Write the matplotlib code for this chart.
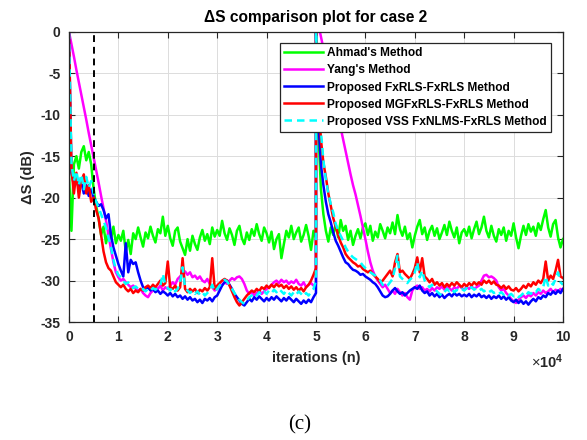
import numpy as np
import matplotlib
matplotlib.use('Agg')
import matplotlib.pyplot as plt

plt.rcParams['font.family'] = ['Liberation Sans', 'DejaVu Sans']
plt.rcParams['mathtext.fontset'] = 'custom'
plt.rcParams['mathtext.rm'] = 'Liberation Sans'
plt.rcParams['mathtext.bf'] = 'Liberation Sans:bold'
plt.rcParams['axes.unicode_minus'] = False

# iterations in units of 1e4; the plant changes at 5e4 so each run has two halves
n_first = np.arange(101) * 0.05
n_second = 5.0 + np.arange(101) * 0.05

ahmad_1 = [-17,
           -24, -16, -15, -16.5, -14.5, -13.8, -15.5, -14.5, -16, -19, -21, -22.5, -24.5, -23.5, -25.5, -24, -25, -23.5, -25.5, -24.5,
           -25.2, -24.0, -26.5, -25.1, -26.8, -24.3, -25.0, -23.6, -24.8, -25.9, -24.2, -24.9, -23.5, -24.6, -25.4, -23.8, -24.3, -22.3, -24.6, -23.4,
           -24.9, -25.8, -24.0, -23.6, -25.3, -26.1, -26.9, -25.0, -26.4, -24.6, -25.6, -26.3, -24.8, -23.9, -25.2, -24.4, -25.6, -23.6, -24.7, -23.9,
           -24.6, -22.8, -24.3, -25.1, -23.7, -24.5, -25.7, -24.0, -23.4, -24.9, -25.6, -24.2, -25.1, -23.8, -24.6, -23.2, -24.4, -25.2, -23.6, -24.3,
           -25.4, -24.1, -26.2, -25.0, -24.4, -27.3, -25.6, -24.0, -24.8, -23.4, -25.0, -24.2, -23.6, -25.3, -24.5, -23.3, -24.6, -26.3, -24.0, -24.8]
ahmad_2 = [0,
           -12, -19, -22, -24, -25.3, -23.6, -24.5, -23.2, -24.8, -22.7, -24.0, -23.4, -25.1, -24.0, -25.7, -24.6, -23.8, -24.9, -23.6, -23.1,
           -24.5, -23.4, -25.2, -24.1, -24.8, -23.2, -24.0, -24.9, -23.6, -24.3, -23.0, -24.4, -22.1, -23.8, -24.6, -23.5, -25.0, -24.3, -26.0, -24.6,
           -23.5, -22.7, -24.4, -23.6, -25.1, -24.0, -23.4, -24.6, -23.7, -25.0, -24.2, -23.3, -24.5, -22.9, -24.0, -24.8, -23.6, -25.5, -24.2, -23.8,
           -24.6, -23.5, -24.9, -23.8, -22.9, -24.4, -23.6, -22.3, -24.0, -24.8, -23.4, -24.6, -25.3, -23.8, -24.5, -23.6, -25.2, -24.0, -24.6, -23.1,
           -24.8, -26.1, -24.6, -23.4, -24.5, -23.2, -24.1, -23.5, -24.6, -23.1, -23.9, -22.6, -21.5, -23.6, -24.7, -23.2, -22.7, -24.8, -26.0, -25.0]

yang_1 = [0,
          -1.5, -3.0, -4.6, -6.1, -7.6, -9.1, -10.6, -12.2, -13.7, -15.2, -16.7, -18.2, -19.8, -21.3, -22.8, -24.5, -26.2, -27.8, -29.0, -29.6,
          -30.0, -29.8, -30.2, -30.5, -30.8, -30.6, -31.0, -31.2, -31.0, -31.5, -31.8, -32.0, -31.5, -31.2, -30.8, -31.0, -30.6, -31.2, -30.8, -31.0,
          -30.6, -30.2, -30.5, -29.8, -29.5, -29.2, -28.9, -29.3, -29.0, -29.6, -29.4, -29.8, -29.5, -30.0, -30.2, -29.8, -30.4, -30.8, -31.2, -31.0,
          -30.8, -30.5, -30.2, -30.4, -30.0, -29.7, -29.9, -29.6, -29.5, -29.8, -30.4, -31.2, -31.6, -31.4, -31.8, -31.5, -31.2, -31.6, -31.3, -31.0,
          -30.8, -30.5, -30.2, -30.0, -30.3, -29.9, -30.2, -30.0, -30.4, -30.1, -30.3, -29.9, -30.4, -30.6, -30.2, -30.8, -30.5, -30.3, -30.6, -30.4]
yang_2 = [2.2,
          0.8, -0.6, -2.0, -3.4, -4.8, -6.1, -7.5, -8.9, -10.3, -11.6, -13.0, -14.4, -15.8, -17.2, -18.5, -19.6, -20.9, -22.2, -23.6, -25.0,
          -26.5, -27.8, -28.8, -29.5, -30.0, -30.4, -30.8, -30.5, -31.0, -31.5, -31.2, -31.6, -31.0, -31.4, -31.8, -31.5, -32.0, -32.3, -31.2, -30.8,
          -30.6, -31.0, -30.8, -31.2, -31.0, -31.3, -30.9, -31.2, -30.8, -31.0, -30.7, -31.1, -30.6, -30.9, -31.2, -30.8, -31.0, -30.6, -30.9, -31.1,
          -30.8, -31.0, -30.7, -31.0, -30.8, -30.6, -30.0, -29.4, -29.3, -29.6, -29.5, -29.7, -30.0, -30.8, -31.2, -31.0, -31.5, -31.8, -32.2, -32.5,
          -32.7, -32.3, -32.0, -31.8, -32.1, -31.7, -31.9, -31.5, -31.8, -31.4, -31.6, -31.2, -31.5, -31.3, -31.0, -31.4, -31.1, -31.3, -31.0, -31.2]

fxrls_1 = [0,
           -17, -18.5, -17.5, -19, -18, -19.5, -18.5, -19.8, -19.0, -20.0, -20.5, -21.0, -20.8, -21.5, -22.5, -22.0, -24.5, -26.0, -27.0, -28.0,
           -28.8, -29.5, -25.5, -29.0, -27.5, -28.0, -27.8, -29.0, -30.0, -30.8, -31.0, -30.8, -31.2, -31.0, -31.4, -31.2, -31.6, -31.3, -31.5, -31.8,
           -31.5, -31.9, -31.6, -32.0, -31.8, -32.2, -31.9, -32.3, -32.0, -32.4, -32.2, -32.6, -32.3, -32.7, -32.2, -32.4, -32.1, -32.5, -32.0, -31.8,
           -31.2, -30.6, -30.2, -30.0, -30.5, -31.0, -31.6, -32.0, -32.4, -32.8, -33.0, -32.6, -32.2, -32.5, -32.0, -32.3, -31.9, -32.2, -32.5, -32.1,
           -32.4, -32.0, -32.3, -31.9, -32.2, -32.5, -32.1, -32.4, -32.0, -32.3, -32.6, -32.2, -32.5, -32.8, -32.4, -32.7, -32.3, -32.6, -32.0, -31.5]
fxrls_2 = [0,
           -11, -16, -18.5, -20.5, -22.0, -23.0, -24.2, -25.2, -25.8, -26.5, -27.2, -27.8, -28.0, -28.4, -28.7, -28.8, -29.0, -29.3, -29.2, -29.5,
           -29.7, -29.9, -30.2, -30.4, -30.8, -31.3, -31.8, -32.0, -31.9, -31.6, -31.2, -30.9, -31.3, -31.6, -31.4, -31.8, -31.5, -31.2, -31.0, -30.8,
           -31.0, -30.6, -31.2, -31.5, -31.3, -31.8, -31.5, -31.9, -31.6, -32.0, -31.7, -32.1, -31.8, -31.6, -31.9, -31.5, -31.8, -31.6, -31.9, -31.7,
           -31.9, -31.6, -32.0, -31.7, -31.9, -31.6, -32.0, -31.8, -32.1, -31.8, -32.2, -31.9, -32.1, -31.8, -32.2, -31.9, -32.3, -32.0, -32.4, -32.6,
           -32.3, -32.7, -32.4, -32.8, -32.5, -32.9, -32.5, -32.2, -32.5, -32.0, -32.2, -31.8, -32.0, -31.5, -31.7, -31.3, -31.6, -31.2, -31.5, -31.0]

mgfxrls_1 = [0,
             -16.5, -19.5, -17.0, -20.0, -18.0, -17.2, -19.5, -18.5, -20.5, -20.0, -21.5, -22.5, -24.5, -26.5, -27.8, -28.5, -28.8, -29.5, -30.2, -30.5,
             -30.8, -30.5, -31.0, -31.3, -31.0, -31.5, -31.2, -31.4, -31.0, -31.2, -30.8, -30.6, -30.9, -30.5, -30.8, -30.4, -30.0, -30.6, -30.3, -27.7,
             -30.8, -31.0, -30.6, -31.2, -30.8, -27.3, -31.0, -31.4, -31.0, -31.3, -31.0, -31.5, -31.1, -31.3, -30.9, -31.2, -30.8, -27.3, -31.0, -30.6,
             -30.3, -30.0, -29.8, -30.0, -30.6, -31.3, -32.0, -32.6, -33.0, -32.6, -32.2, -31.8, -31.5, -31.2, -31.4, -31.0, -31.3, -30.8, -31.0, -30.6,
             -30.9, -30.5, -30.8, -30.4, -30.7, -30.5, -30.9, -30.6, -31.0, -30.7, -31.1, -30.8, -31.2, -30.9, -31.3, -30.8, -30.5, -30.0, -29.3, -28.5]
mgfxrls_2 = [0,
             -8, -13, -15.8, -17.5, -19.5, -21.0, -22.5, -23.5, -24.5, -25.4, -26.0, -26.8, -27.2, -27.5, -27.8, -28.0, -28.3, -28.2, -28.6, -28.8,
             -29.0, -28.8, -29.2, -29.5, -29.8, -30.2, -30.0, -29.6, -29.2, -28.8, -29.5, -27.8, -26.8, -29.0, -28.8, -29.2, -29.5, -29.8, -29.2, -28.5,
             -27.2, -29.0, -27.3, -29.5, -29.8, -30.2, -29.8, -30.5, -30.2, -30.6, -30.3, -30.8, -30.4, -30.7, -30.3, -30.6, -30.2, -30.5, -30.8, -30.4,
             -30.7, -30.3, -30.6, -30.2, -30.5, -30.2, -30.5, -30.0, -30.3, -30.0, -30.4, -30.1, -30.5, -30.6, -30.9, -30.6, -31.0, -30.7, -31.1, -31.2,
             -30.9, -31.3, -31.0, -30.6, -30.9, -30.4, -30.7, -30.2, -30.5, -30.0, -30.3, -29.8, -27.7, -30.0, -29.4, -29.8, -28.8, -27.5, -29.5, -29.7]

vss_1 = [0,
         -16.0, -18.0, -16.8, -18.5, -17.2, -19.0, -17.5, -18.8, -18.0, -19.5, -20.5, -21.2, -22.0, -22.8, -23.6, -24.8, -26.0, -27.5, -28.7, -29.3,
         -29.6, -30.0, -30.4, -30.2, -30.6, -30.9, -30.7, -31.0, -31.2, -31.0, -31.3, -31.0, -31.2, -30.9, -31.1, -30.8, -30.6, -29.2, -30.5, -30.9,
         -31.2, -30.8, -31.3, -31.0, -30.2, -28.4, -30.8, -31.2, -31.5, -31.2, -31.6, -31.3, -31.7, -31.4, -31.8, -31.5, -31.2, -30.5, -31.3, -31.0,
         -30.6, -30.2, -29.9, -30.1, -30.6, -31.0, -31.5, -32.0, -32.3, -32.6, -32.8, -32.4, -32.0, -31.8, -31.5, -31.8, -31.4, -31.7, -31.3, -31.6,
         -31.2, -31.5, -31.1, -31.4, -31.0, -31.3, -31.6, -31.2, -31.5, -31.8, -31.4, -31.7, -31.3, -31.6, -31.9, -31.5, -31.8, -31.4, -31.0, -30.0]
vss_2 = [0,
         -7, -12, -15.5, -17.8, -19.5, -20.8, -21.8, -23.2, -24.0, -24.6, -25.2, -26.0, -26.5, -26.9, -27.2, -27.4, -27.6, -27.8, -28.2, -28.5,
         -28.7, -29.0, -29.2, -29.4, -29.6, -30.0, -30.5, -30.8, -30.6, -30.2, -29.8, -28.5, -27.0, -29.5, -29.8, -30.0, -30.3, -29.9, -29.6, -29.0,
         -27.8, -29.6, -28.8, -30.0, -30.4, -30.8, -30.5, -31.0, -31.3, -31.6, -31.8, -31.4, -31.0, -31.3, -31.0, -31.4, -31.1, -31.3, -31.0, -31.2,
         -30.9, -31.2, -30.8, -31.1, -30.9, -31.2, -31.0, -31.3, -31.1, -31.4, -31.2, -31.5, -31.3, -31.6, -31.4, -31.7, -31.5, -31.8, -31.6, -31.9,
         -31.7, -32.0, -31.8, -31.5, -31.8, -31.4, -31.6, -31.2, -31.4, -31.0, -31.2, -30.8, -29.5, -30.6, -30.2, -30.5, -29.8, -29.0, -30.2, -30.5]

series = [
    ("Ahmad's Method", ahmad_1, ahmad_2, '#00ff00', '-'),
    ("Yang's Method", yang_1, yang_2, '#ff00ff', '-'),
    ('Proposed FxRLS-FxRLS Method', fxrls_1, fxrls_2, '#0000ff', '-'),
    ('Proposed MGFxRLS-FxRLS Method', mgfxrls_1, mgfxrls_2, '#ff0000', '-'),
    ('Proposed VSS FxNLMS-FxRLS Method', vss_1, vss_2, '#00ffff', '--'),
]

n_all = np.concatenate([n_first, n_second])

fig = plt.figure(figsize=(5.87, 4.40), dpi=100)
ax = fig.add_axes([0.1175, 0.268, 0.8416, 0.660])

for label, first, second, color, ls in series:
    ds = np.concatenate([first, second])
    line, = ax.plot(n_all, ds, color=color, linestyle=ls, linewidth=1.8, label=label)
    if ls == '--':
        line.set_dashes((3, 2))

# change point of the secondary path
ax.plot([0.5, 0.5], [-35, 0], color='k', linestyle='--', linewidth=1.4, dashes=(3.5, 2.5))

ax.set_xlim(0, 10)
ax.set_ylim(-35, 0)
ax.set_xticks(np.arange(0, 11, 1))
ax.set_yticks(np.arange(-35, 1, 5))

dark = '#262626'
ax.grid(True, color='#dcdcdc', linewidth=0.7)
ax.set_axisbelow(True)
for sp in ax.spines.values():
    sp.set_color(dark)
    sp.set_linewidth(0.9)
ax.tick_params(direction='in', top=True, right=True, length=4, width=0.8,
               colors=dark, labelsize=10, pad=6)
for lab in ax.get_xticklabels() + ax.get_yticklabels():
    lab.set_fontweight('bold')

ax.set_title('\u0394S comparison plot for case 2', fontsize=11.2, fontweight='bold', color='k', pad=7)
ax.set_xlabel('iterations (n)', fontsize=10.5, fontweight='bold', color=dark, labelpad=5)
ax.set_ylabel('\u0394S (dB)', fontsize=10.5, fontweight='bold', color=dark, labelpad=4)
ax.text(0.968, -0.138, r'$\times\mathbf{10^{4}}$', transform=ax.transAxes,
        ha='center', va='center', fontsize=10.5, color=dark)

leg = ax.legend(loc='upper right', bbox_to_anchor=(0.976, 0.960), borderaxespad=0,
                fancybox=False, framealpha=1, edgecolor=dark, fontsize=8.6,
                handlelength=3.3, labelspacing=0.42, borderpad=0.35, handletextpad=0.35)
leg.get_frame().set_linewidth(0.9)
for t in leg.get_texts():
    t.set_fontweight('bold')
    t.set_color('k')

fig.text(300 / 587, 1 - 425 / 440, '(c)', family='Liberation Serif', fontsize=15,
         ha='center', va='center')

fig.savefig('out.png', dpi=100)
